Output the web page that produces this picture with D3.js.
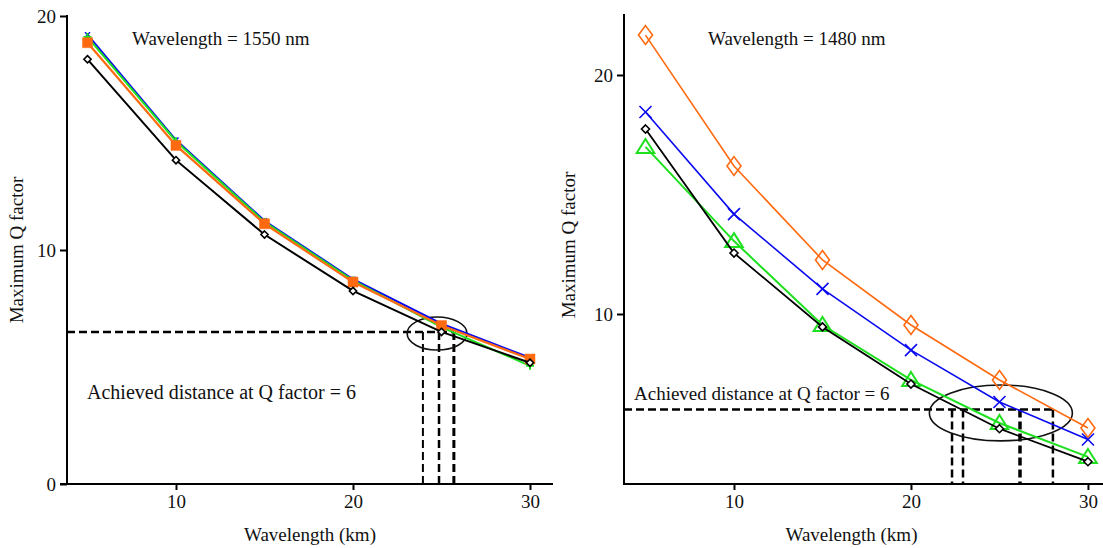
<!DOCTYPE html>
<html><head><meta charset="utf-8">
<script src="https://cdn.jsdelivr.net/npm/d3@7"></script>
<style>
html,body{margin:0;padding:0;background:#fff;}
text{font-family:"Liberation Serif","Times New Roman",serif;fill:#111;}
</style></head>
<body>
<svg id="chart" width="1103" height="548"></svg>
<script>
// ---------- DATA ----------
const distances = [5, 10, 15, 20, 25, 30];
const xTicks = [10, 20, 30];

// Left panel: wavelength 1550 nm
const left_blue   = [19.2, 14.7, 11.25, 8.75, 6.85, 5.4];
const left_green  = [19.1, 14.65, 11.2, 8.7, 6.7, 5.05];
const left_orange = [18.86, 14.47, 11.12, 8.63, 6.77, 5.34];
const left_black  = [18.15, 13.84, 10.66, 8.25, 6.5, 5.18];
const leftYTicks = [0, 10, 20];
const leftQLine = 6.5;
const leftDistMarks = [23.95, 24.86, 25.7];
const leftDistWidths = [2, 2.5, 3];

// Right panel: wavelength 1480 nm
const right_orange = [21.67, 16.19, 12.26, 9.54, 7.24, 5.23];
const right_blue   = [18.45, 14.18, 11.05, 8.49, 6.32, 4.75];
const right_green  = [16.99, 13.05, 9.54, 7.24, 5.44, 4.02];
const right_black  = [17.74, 12.55, 9.46, 7.07, 5.2, 3.82];
const rightYTicks = [10, 20];
const rightQLine = 6.0;
const rightDistMarks = [22.32, 22.94, 26.16, 28.02];
const rightDistWidths = [2.5, 2.5, 3.5, 2.5];

const titleLeft = "Wavelength = 1550 nm";
const titleRight = "Wavelength = 1480 nm";
const annotation = "Achieved distance at Q factor = 6";
const xTitle = "Wavelength (km)";
const yTitle = "Maximum Q factor";

// ---------- DRAW ----------
const svg = d3.select("#chart");
const C = {orange:"#ff6a10", blue:"#0a0af0", green:"#1ee01e", black:"#000"};
const FS = "19px";

function markerPath(type, s){
  switch(type){
    case "diamondTall": return `M0,${-s*1.35}L${s},0L0,${s*1.35}L${-s},0Z`;
    case "diamond": return `M0,${-s}L${s},0L0,${s}L${-s},0Z`;
    case "square": return `M${-s},${-s}H${s}V${s}H${-s}Z`;
    case "x": return `M${-s},${-s}L${s},${s}M${-s},${s}L${s},${-s}`;
    case "plus": return `M${-s},0H${s}M0,${-s}V${s}`;
    case "tri": return `M0,${-s}L${s*1.1},${s*0.75}L${-s*1.1},${s*0.75}Z`;
  }
}

function panel(cfg){
  const x = d3.scaleLinear().domain(cfg.xDom).range(cfg.xRange);
  const y = d3.scaleLinear().domain(cfg.yDom).range([484, cfg.yTop]);
  const g = svg.append("g");

  // axes
  const xa = g.append("g").attr("transform","translate(0,484)")
    .call(d3.axisBottom(x).tickValues(xTicks).tickSize(6).tickPadding(5).tickFormat(d3.format("d")));
  xa.select(".domain").remove();
  g.append("line").attr("x1",cfg.xLineStart).attr("x2",cfg.xRange[1]).attr("y1",484).attr("y2",484)
    .attr("stroke","#000").attr("stroke-width",2);
  const ya = g.append("g").attr("transform",`translate(${cfg.xRange[0]},0)`)
    .call(d3.axisLeft(y).tickValues(cfg.yTicks).tickSize(7).tickPadding(4).tickFormat(d3.format("d")));
  ya.select(".domain").remove();
  g.append("line").attr("x1",cfg.xRange[0]).attr("x2",cfg.xRange[0]).attr("y1",cfg.yTop-1).attr("y2",485)
    .attr("stroke","#000").attr("stroke-width",2);
  g.selectAll(".tick line").attr("stroke","#000").attr("stroke-width",2);
  g.selectAll(".tick text").style("font-size",FS).style("font-family","Liberation Serif").attr("fill","#111");

  g.append("text").attr("x",(cfg.xRange[0]+cfg.xRange[1])/2 + cfg.xTitleOff).attr("y",541)
    .attr("text-anchor","middle").style("font-size",FS).text(xTitle);
  g.append("text").attr("transform",`translate(${cfg.yTitleX},${cfg.yTitleY}) rotate(-90)`)
    .attr("text-anchor","middle").style("font-size",FS).text(yTitle);

  // annotations
  const dash = "8,4";
  g.append("line").attr("x1",cfg.xRange[0]).attr("x2",x(d3.max(cfg.distMarks)))
    .attr("y1",y(cfg.qLine)).attr("y2",y(cfg.qLine))
    .attr("stroke","#000").attr("stroke-width",2.5).attr("stroke-dasharray",dash);
  cfg.distMarks.forEach((d,i)=>{
    g.append("line").attr("x1",x(d)).attr("x2",x(d)).attr("y1",y(cfg.qLine)).attr("y2",484)
      .attr("stroke","#000").attr("stroke-width",cfg.distWidths[i]).attr("stroke-dasharray",dash);
  });
  const e = cfg.ellipse;
  g.append("ellipse").attr("cx",x(e.cx)).attr("cy",y(e.cy))
    .attr("rx",x(e.cx+e.rx)-x(e.cx)).attr("ry",y(e.cy)-y(e.cy+e.ry))
    .attr("fill","none").attr("stroke","#111").attr("stroke-width",1.6);

  g.append("text").attr("x",cfg.titleX).attr("y",45).style("font-size",FS).text(cfg.title);
  g.append("text").attr("x",cfg.annX).attr("y",cfg.annY).style("font-size",cfg.annFS).text(annotation);

  // series
  const line = d3.line().x((d,i)=>x(distances[i])).y(d=>y(d));
  cfg.series.forEach(s=>{
    g.append("path").datum(s.values).attr("d",line).attr("fill","none")
      .attr("stroke",s.color).attr("stroke-width",s.lw);
    g.selectAll(null).data(s.values).enter().append("path")
      .attr("transform",(d,i)=>`translate(${x(distances[i])},${y(d)})`)
      .attr("d",markerPath(s.marker,s.ms))
      .attr("fill",s.fill).attr("stroke",s.mstroke||s.color).attr("stroke-width",s.msw);
  });
}

panel({
  xDom:[3.842,31.30], xRange:[67,553], xLineStart:60, xTitleOff:0,
  yDom:[0,20], yTop:16, yTicks:leftYTicks,
  yTitleX:23, yTitleY:250, title:titleLeft, titleX:132,
  annX:87, annY:399, annFS:"20px", qLine:leftQLine, distMarks:leftDistMarks, distWidths:leftDistWidths,
  ellipse:{cx:24.75, cy:6.43, rx:1.69, ry:0.705},
  series:[
    {values:left_blue, color:C.blue, lw:2, marker:"x", ms:2.5, fill:"none", msw:1.5},
    {values:left_green, color:C.green, lw:2, marker:"plus", ms:4, fill:"none", msw:2},
    {values:left_orange, color:C.orange, lw:2.2, marker:"square", ms:5, fill:C.orange, msw:0.5},
    {values:left_black, color:C.black, lw:2, marker:"diamond", ms:3.6, fill:"#fff", msw:1.6}
  ]
});

panel({
  xDom:[3.785,30.85], xRange:[624,1103], xLineStart:624, xTitleOff:-12,
  yDom:[2.887,22.51], yTop:15, yTicks:rightYTicks,
  yTitleX:575, yTitleY:245, title:titleRight, titleX:708,
  annX:634, annY:400, annFS:"19px", qLine:rightQLine, distMarks:rightDistMarks, distWidths:rightDistWidths,
  ellipse:{cx:25.08, cy:5.86, rx:4.04, ry:1.17},
  series:[
    {values:right_orange, color:C.orange, lw:1.6, marker:"diamondTall", ms:7, fill:"none", msw:1.6},
    {values:right_blue, color:C.blue, lw:1.6, marker:"x", ms:6, fill:"none", msw:1.6},
    {values:right_green, color:C.green, lw:2, marker:"tri", ms:8, fill:"none", msw:2},
    {values:right_black, color:C.black, lw:1.8, marker:"diamond", ms:4, fill:"#fff", msw:1.6}
  ]
});
</script>
</body></html>
